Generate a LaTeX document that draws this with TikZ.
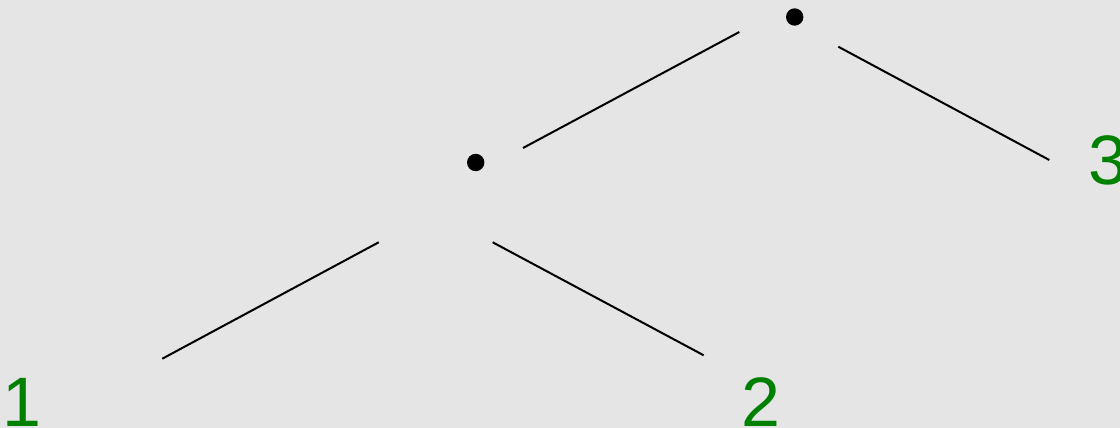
\documentclass[tikz,border=0pt]{standalone}
\usepackage{fontspec}
\setmainfont{Liberation Sans}
\definecolor{bg}{HTML}{E5E5E5}
\definecolor{leafgreen}{HTML}{008000}
\begin{document}
\begin{tikzpicture}[x=0.5pt,y=-0.5pt,
  dot/.style={circle,fill=black,inner sep=0pt,minimum size=8.7pt},
  leaf/.style={anchor=base,inner sep=0pt,text=leafgreen,font=\fontsize{35pt}{40pt}\selectfont},
  edge/.style={draw=black,line width=1pt}]
\fill[bg] (0,0) rectangle (1120,428);
\useasboundingbox (0,0) rectangle (1120,428);
\node[dot] (root) at (794.7,17) {};
\node[dot] (inner) at (475.7,162.5) {};
\node[leaf] (l1) at (21.6,426.5) {1};
\node[leaf] (l2) at (761,426) {2};
\node[leaf] (l3) at (1107.5,184) {3};
% connector end points
\coordinate (root-sw) at (739.3,32);
\coordinate (inner-ne) at (523,148);
\coordinate (root-se) at (838.3,46.7);
\coordinate (l3-nw) at (1049.3,160);
\coordinate (inner-sw) at (378.7,242.3);
\coordinate (l1-ne) at (162.3,358.7);
\coordinate (inner-se) at (492.7,242.3);
\coordinate (l2-nw) at (703.7,355.3);
\draw[edge] (root-sw) -- (inner-ne);
\draw[edge] (root-se) -- (l3-nw);
\draw[edge] (inner-sw) -- (l1-ne);
\draw[edge] (inner-se) -- (l2-nw);
\end{tikzpicture}
\end{document}
